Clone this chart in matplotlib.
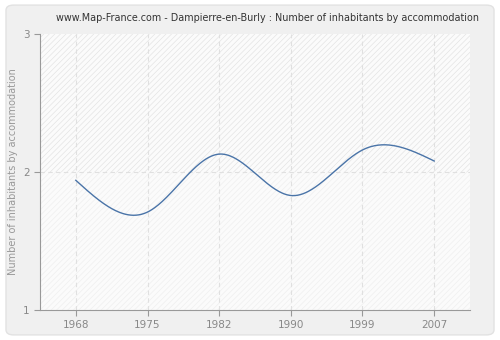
import numpy as np
import matplotlib
matplotlib.use("Agg")
import matplotlib.pyplot as plt
from matplotlib.patches import FancyBboxPatch, Rectangle

years = ["1968", "1975", "1982", "1990", "1999", "2007"]
inhabitants = [1.94, 1.71, 2.13, 1.83, 2.16, 2.08]
y_ticks = [1, 2, 3]

title = "www.Map-France.com - Dampierre-en-Burly : Number of inhabitants by accommodation"
y_label = "Number of inhabitants by accommodation"


def natural_spline(x, y, n=400):
    x = np.asarray(x, float)
    y = np.asarray(y, float)
    k = len(x)
    h = np.diff(x)
    A = np.zeros((k, k))
    b = np.zeros(k)
    A[0, 0] = A[-1, -1] = 1.0
    for i in range(1, k - 1):
        A[i, i - 1] = h[i - 1]
        A[i, i] = 2 * (h[i - 1] + h[i])
        A[i, i + 1] = h[i]
        b[i] = 3 * ((y[i + 1] - y[i]) / h[i] - (y[i] - y[i - 1]) / h[i - 1])
    c = np.linalg.solve(A, b)
    xs = np.linspace(x[0], x[-1], n)
    ys = np.empty_like(xs)
    for j, xv in enumerate(xs):
        i = min(np.searchsorted(x, xv, side="right") - 1, k - 2)
        dx = xv - x[i]
        bi = (y[i + 1] - y[i]) / h[i] - h[i] * (2 * c[i] + c[i + 1]) / 3
        di = (c[i + 1] - c[i]) / (3 * h[i])
        ys[j] = y[i] + bi * dx + c[i] * dx ** 2 + di * dx ** 3
    return xs, ys


fig = plt.figure(figsize=(5, 3.4), dpi=100)
fig.patch.set_facecolor("white")
fig.patches.append(FancyBboxPatch((0.012, 0.015), 0.976, 0.97,
                                  boxstyle="round,pad=0,rounding_size=0.015",
                                  transform=fig.transFigure, facecolor="#f0f0f0",
                                  edgecolor="#e2e2e2", linewidth=1, zorder=-10))

ax = fig.add_axes([0.08, 0.088, 0.86, 0.812])
ax.set_zorder(5)
ax.set_facecolor("#fbfbfb")
pos = np.arange(len(years))
ax.set_xlim(-0.5, len(years) - 0.5)
ax.set_ylim(1, 3)

plt.rcParams["hatch.linewidth"] = 0.5
ax.add_patch(Rectangle((-0.5, 1), len(years), 1, facecolor="none", edgecolor="#efefef",
                       hatch="//////", linewidth=0, zorder=0))
ax.add_patch(Rectangle((-0.5, 2), len(years), 1, facecolor="none", edgecolor="#e4e4e4",
                       hatch="//////", linewidth=0, zorder=0))

for p in pos:
    ax.axvline(p, color="#e0e0e0", linestyle=(0, (4, 3)), linewidth=0.8, zorder=1)
ax.axhline(2, color="#e0e0e0", linestyle=(0, (4, 3)), linewidth=0.8, zorder=1)

xs, ys = natural_spline(pos, inhabitants)
ax.plot(xs, ys, color="#4a74a8", linewidth=1.0, zorder=3)

ax.set_xticks(pos)
ax.set_xticklabels(years)
ax.set_yticks(y_ticks)
ax.tick_params(colors="#999999", labelcolor="#888888", labelsize=7.5, length=4, width=0.8)
for side in ("top", "right"):
    ax.spines[side].set_visible(False)
for side in ("left", "bottom"):
    ax.spines[side].set_color("#999999")
    ax.spines[side].set_linewidth(0.8)

ax.set_ylabel(y_label, color="#999999", fontsize=7)
ax.yaxis.set_label_coords(-0.052, 0.5)
fig.text(0.534, 0.948, title, ha="center", va="center", fontsize=6.9, color="#333333")

fig.savefig("out.png", dpi=100, facecolor=fig.get_facecolor())
